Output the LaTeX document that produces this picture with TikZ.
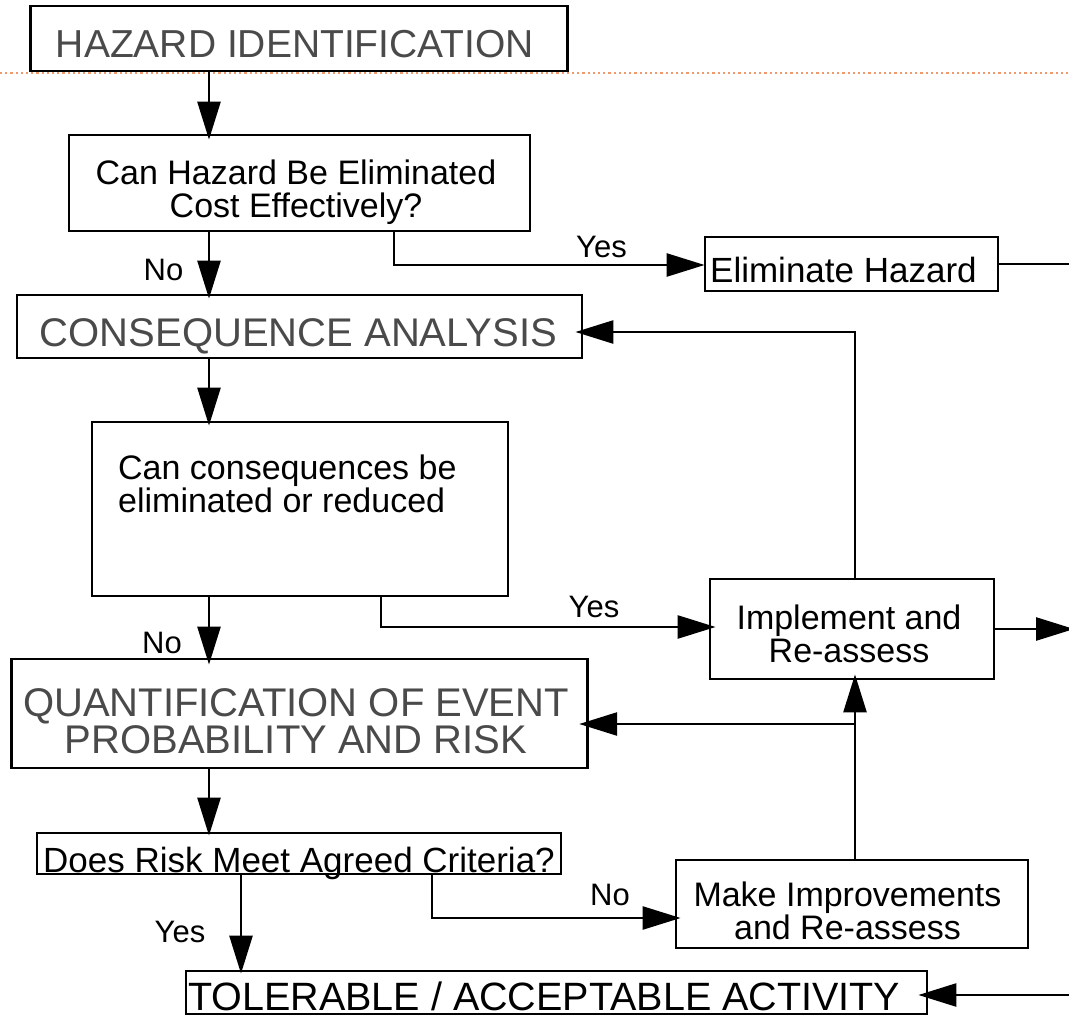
\documentclass[tikz,border=0pt]{standalone}
\usepackage{fontspec}
\setmainfont{Liberation Sans}
\usetikzlibrary{arrows.meta}
\definecolor{headgray}{HTML}{4A4A4A}
\definecolor{guideorange}{HTML}{EE9A6C}
\begin{document}
\begin{tikzpicture}[x=1pt,y=-1pt,
  box/.style={draw=black,line width=2.8pt,fill=white,inner sep=0pt,rectangle},
  head/.style={inner sep=0pt,text=headgray,font=\fontsize{40}{37}\selectfont,align=center},
  note/.style={inner sep=0pt,font=\fontsize{34}{33}\selectfont,align=center},
  lbl/.style={inner sep=0pt,font=\fontsize{31}{31}\selectfont},
  link/.style={line width=2.6pt},
  flow/.style={link,-{Triangle[length=38pt,width=23pt]},shorten >=-6pt}]

% page area
\fill[white] (0,0) rectangle (1069,1017);
\useasboundingbox (0,0) rectangle (1069,1017);

% dotted guide line under the title box
\draw[guideorange,line width=2.2pt,dash pattern=on 2.2pt off 3pt] (0,73) -- (1069,73);

% boxes
\node[box,minimum width=537pt,minimum height=65pt]  (haz)    at (299.3,38.5) {};
\node[box,minimum width=461pt,minimum height=96pt]  (canhaz) at (299.5,183) {};
\node[box,minimum width=293pt,minimum height=54pt]  (elim)   at (851.5,264) {};
\node[box,minimum width=565pt,minimum height=63pt]  (cons)   at (299.5,326.5) {};
\node[box,minimum width=416pt,minimum height=174pt] (cancon) at (300,509) {};
\node[box,minimum width=284pt,minimum height=100pt] (impl)   at (852,629) {};
\node[box,minimum width=576pt,minimum height=109pt] (quant)  at (299.8,713.5) {};
\node[box,minimum width=524pt,minimum height=41pt]  (risk)   at (299,853.5) {};
\node[box,minimum width=352pt,minimum height=88pt]  (make)   at (852,904) {};
\node[box,minimum width=741pt,minimum height=43pt]  (tol)    at (556.5,992.5) {};

% box texts
\node[head,font=\fontsize{39}{37}\selectfont,anchor=north] (haz-t) at (295,30) {HAZARD IDENTIFICATION};
\node[note,anchor=north] (canhaz-t) at (296,160) {Can Hazard Be Eliminated\\Cost Effectively?};
\node[note,font=\fontsize{35}{33}\selectfont,anchor=north west] (elim-t) at (710,257) {Eliminate Hazard};
\node[head,anchor=north] (cons-t) at (298.5,318) {CONSEQUENCE ANALYSIS};
\node[note,font=\fontsize{34}{31}\selectfont,align=left,anchor=north west] (cancon-t) at (118,455) {Can consequences be\\eliminated or reduced};
\node[note,anchor=north] (impl-t) at (849,605) {Implement and\\Re-assess};
\node[head,anchor=north] (quant-t) at (296,688) {QUANTIFICATION OF EVENT\\PROBABILITY AND RISK};
\node[note,font=\fontsize{35}{33}\selectfont,anchor=north west] (risk-t) at (43,847) {Does Risk Meet Agreed Criteria?};
\node[note,anchor=north] (make-t) at (847.5,882) {Make Improvements\\and Re-assess};
\node[note,font=\fontsize{39.5}{37}\selectfont,anchor=north west] (tol-t) at (188,982) {TOLERABLE / ACCEPTABLE ACTIVITY};

% routing points
\coordinate (spine) at (209,0);
\coordinate (yesA) at (394,0);
\coordinate (yesB) at (381,0);
\coordinate (yesC) at (241,0);
\coordinate (noC)  at (432,0);
\coordinate (back) at (855,332);
\coordinate (join) at (855,724);
\coordinate (rimA) at (1069,0);
\coordinate (rimB) at (1074,0);
\coordinate (rimC) at (1069,995);

% main spine
\draw[flow] (haz.south -| spine) -- (canhaz.north -| spine);
\draw[flow,shorten >=-5pt] (canhaz.south -| spine) -- (cons.north -| spine);
\draw[flow,shorten >=-5pt] (cons.south -| spine) -- (cancon.north -| spine);
\draw[flow,shorten >=-7pt] (cancon.south -| spine) -- (quant.north -| spine);
\draw[flow,shorten >=-4pt] (quant.south -| spine) -- (risk.north -| spine);

% yes / no branches
\draw[flow,shorten >=-1pt] (canhaz.south -| yesA) |- ([yshift=-1pt]elim.west);
\draw[link] (elim.east) -- (elim.east -| rimA);
\draw[flow,shorten >=-7pt] (cancon.south -| yesB) |- ([yshift=2pt]impl.west);
\draw[flow,shorten >=0pt] (impl.east) -- (impl.east -| rimB);
\draw[flow,shorten >=-4pt] (risk.south -| yesC) -- (tol.north -| yesC);
\draw[flow,shorten >=-6pt] (risk.south -| noC) |- ([yshift=-14pt]make.west);

% feedback loops
\draw[flow,shorten >=-8pt] (impl.north -| back) -- (back) -- (cons.east |- back);
\draw[flow] (make.north -| back) -- (impl.south -| back);
\draw[flow,shorten >=-10pt] (join) -- (quant.east |- join);
\draw[flow,shorten >=-10pt] (rimC) -- (tol.east |- rimC);

% branch labels
\node[lbl,anchor=base] (no-a)  at (163.5,280) {No};
\node[lbl,anchor=base] (yes-a) at (601.5,257) {Yes};
\node[lbl,anchor=base] (no-b)  at (162,653) {No};
\node[lbl,anchor=base] (yes-b) at (594,617) {Yes};
\node[lbl,anchor=base] (yes-c) at (180,942) {Yes};
\node[lbl,anchor=base] (no-c)  at (610,905) {No};

\end{tikzpicture}
\end{document}
